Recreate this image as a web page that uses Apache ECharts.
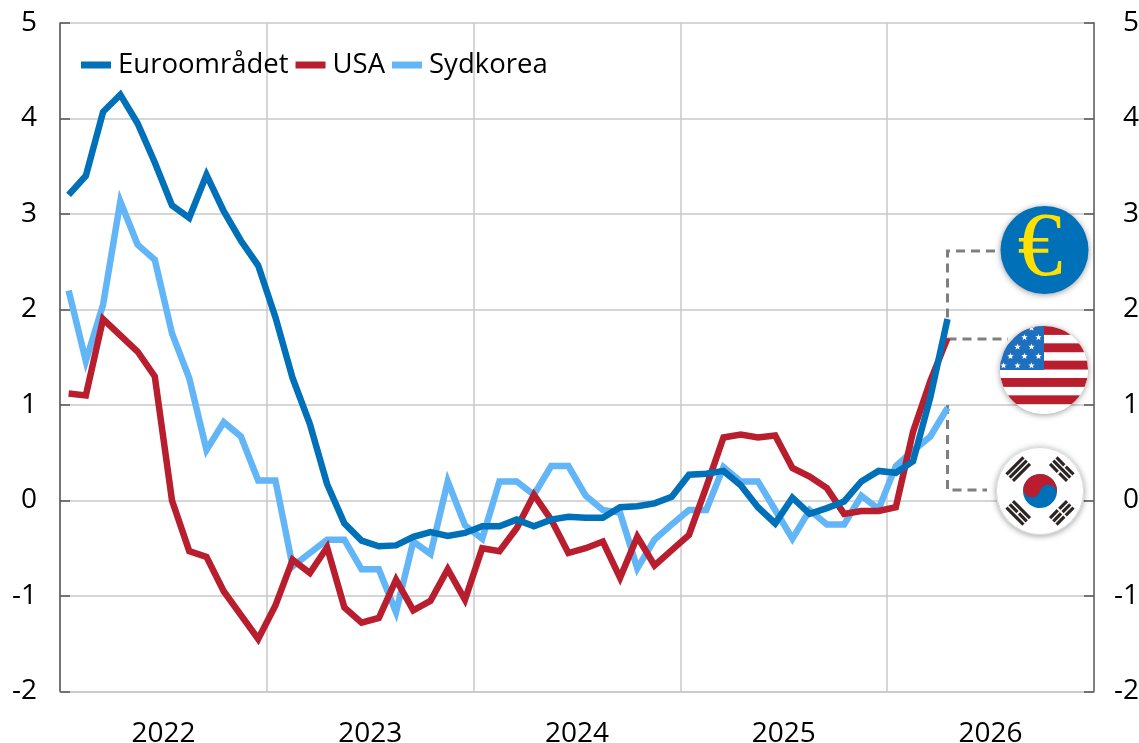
<!DOCTYPE html>
<html><head><meta charset="utf-8">
<style>html,body{margin:0;padding:0;background:#fff}#c{width:1139px;height:743px}</style>
<script src="https://cdn.jsdelivr.net/npm/echarts@6/dist/echarts.min.js"></script>
</head><body><div id="c"></div>
<script>
const years = ['2022','2023','2024','2025','2026'];
const months = ['01','02','03','04','05','06','07','08','09','10','11','12'];
const monthCats = years.flatMap(y => months.map(m => y + '-' + m));
const euroValues = [3.2,3.4,4.07,4.25,3.95,3.54,3.09,2.96,3.41,3.03,2.72,2.46,1.92,1.28,0.8,0.17,-0.24,-0.42,-0.48,-0.47,-0.38,-0.33,-0.37,-0.34,-0.27,-0.27,-0.2,-0.27,-0.2,-0.17,-0.18,-0.18,-0.07,-0.06,-0.03,0.04,0.27,0.28,0.31,0.16,-0.07,-0.24,0.03,-0.14,-0.08,-0.01,0.2,0.31,0.29,0.41,1.08,1.9];
const usaValues = [1.12,1.1,1.9,1.73,1.56,1.3,0.0,-0.53,-0.59,-0.95,-1.2,-1.45,-1.1,-0.62,-0.76,-0.49,-1.12,-1.28,-1.23,-0.83,-1.15,-1.05,-0.72,-1.04,-0.5,-0.53,-0.29,0.06,-0.2,-0.55,-0.5,-0.43,-0.81,-0.38,-0.68,-0.52,-0.36,0.14,0.66,0.69,0.66,0.68,0.34,0.25,0.13,-0.14,-0.11,-0.11,-0.07,0.72,1.25,1.7];
const koreaValues = [2.2,1.46,2.05,3.13,2.68,2.52,1.75,1.28,0.53,0.82,0.67,0.21,0.21,-0.69,-0.55,-0.41,-0.41,-0.72,-0.72,-1.17,-0.43,-0.56,0.2,-0.26,-0.4,0.2,0.2,0.06,0.36,0.36,0.05,-0.1,-0.13,-0.71,-0.41,-0.25,-0.1,-0.1,0.35,0.2,0.2,-0.1,-0.4,-0.1,-0.25,-0.25,0.05,-0.09,0.36,0.52,0.67,0.97];

const BLUE='#0070B8', RED='#B81E2D', LIGHT='#62B5F6';
const FONT='"Open Sans"';

function star(cx,cy,r){let p=[];for(let i=0;i<10;i++){const a=-Math.PI/2+i*Math.PI/5,q=i%2?r*0.42:r;p.push((cx+q*Math.cos(a)).toFixed(2)+','+(cy+q*Math.sin(a)).toFixed(2));}return '<polygon fill="#fff" points="'+p.join(' ')+'"/>';}
function usSvg(){
  let s='<svg xmlns="http://www.w3.org/2000/svg" width="88" height="88" viewBox="0 0 88 88"><defs><clipPath id="k"><circle cx="44" cy="44" r="44"/></clipPath></defs><g clip-path="url(#k)"><rect width="88" height="88" fill="#fff"/>';
  for(let i=0;i<5;i++)s+='<rect x="0" y="'+(i*17.33)+'" width="88" height="8.9" fill="'+RED+'"/>';
  s+='<rect x="0" y="0" width="44" height="44" fill="#1F6FBF"/>';
  for(let r=0;r<5;r++){const y=2+r*9.4;const off=r%2?7:0;for(let c=0;c<4;c++){const x=10.5+off+c*14-7;if(x<42)s+=star(x,y,3.4);}}
  return s+'</g></svg>';
}
function trigram(angle,pattern){
  let s='<g transform="translate(44 44) rotate('+angle+')">';
  pattern.forEach((broken,i)=>{const y=-37+i*4.6;
    if(broken){s+='<rect x="-12" y="'+y+'" width="11" height="3.2" fill="#2b2523"/><rect x="1" y="'+y+'" width="11" height="3.2" fill="#2b2523"/>';}
    else s+='<rect x="-12" y="'+y+'" width="24" height="3.2" fill="#2b2523"/>';});
  return s+'</g>';
}
function krSvg(){
  let s='<svg xmlns="http://www.w3.org/2000/svg" width="88" height="88" viewBox="0 0 88 88"><circle cx="44" cy="44" r="43.5" fill="#fff" stroke="#d8d8d8"/>';
  s+='<g transform="translate(44 44) rotate(15)"><circle r="17" fill="#0070B8"/><path d="M-17 0A17 17 0 0 1 17 0A8.5 8.5 0 0 0 0 0A8.5 8.5 0 0 1 -17 0Z" fill="'+RED+'"/></g>';
  s+=trigram(-45,[0,0,0])+trigram(45,[1,0,1])+trigram(-135,[0,1,0])+trigram(135,[1,1,1]);
  return s+'</svg>';
}
const uri=s=>'data:image/svg+xml;charset=utf-8,'+encodeURIComponent(s);
const shadow={shadowBlur:6,shadowColor:'rgba(0,0,0,0.4)',shadowOffsetY:1};
const dash={stroke:'#7f7f7f',lineWidth:3,lineDash:[9,6],fill:null};

const chart=echarts.init(document.getElementById('c'));
const mkLine=(name,data,color,z)=>({name,type:'line',data,xAxisIndex:0,yAxisIndex:0,symbol:'none',smooth:false,z,
  lineStyle:{color,width:6.5,cap:'butt',join:'miter'},itemStyle:{color},emphasis:{disabled:true}});
const yAxisBase={type:'value',min:-2,max:5,interval:1,
  axisLabel:{color:'#000',fontFamily:FONT,fontSize:28,padding:[4,0,0,0]}};
chart.setOption({
  animation:false,
  backgroundColor:'#fff',
  grid:{left:60,right:45,top:23,bottom:51.5,containLabel:false,outerBoundsMode:'none'},
  legend:{left:76,top:46,icon:'rect',itemWidth:30,itemHeight:7,itemGap:7,selectedMode:false,
    textStyle:{color:'#000',fontFamily:FONT,fontSize:27.5,padding:[0,0,0,2]},
    data:['Euroområdet','USA','Sydkorea']},
  xAxis:[
    {type:'category',data:monthCats,boundaryGap:true,position:'bottom',axisLine:{show:false},axisTick:{show:false},axisLabel:{show:false},splitLine:{show:false}},
    {type:'category',data:years,boundaryGap:true,position:'bottom',axisLine:{show:true,onZero:false,lineStyle:{color:'#c8c8c8',width:1.5}},axisTick:{show:false},
      axisLabel:{color:'#000',fontFamily:FONT,fontSize:28,margin:29},splitLine:{show:true,lineStyle:{color:'#c8c8c8',width:1.5}}}
  ],
  yAxis:[
    Object.assign({},yAxisBase,{position:'left',axisLine:{show:true,lineStyle:{color:'#555',width:1.5}},axisTick:{show:true,inside:true,length:10,lineStyle:{color:'#555',width:1.5}},
      axisLabel:Object.assign({},yAxisBase.axisLabel,{margin:23}),splitLine:{show:true,lineStyle:{color:'#c8c8c8',width:1.5}}}),
    Object.assign({},yAxisBase,{position:'right',axisLine:{show:true,lineStyle:{color:'#808080',width:2}},axisTick:{show:true,inside:true,length:10,lineStyle:{color:'#555',width:1.5}},
      axisLabel:Object.assign({},yAxisBase.axisLabel,{align:'right',margin:45}),splitLine:{show:false}})
  ],
  series:[
    mkLine('Euroområdet',euroValues,BLUE,5),
    mkLine('USA',usaValues,RED,4),
    mkLine('Sydkorea',koreaValues,LIGHT,3)
  ],
  graphic:{elements:[
    {type:'polyline',z:1,silent:true,shape:{points:[[995,251],[947.5,251],[947.5,320]]},style:dash},
    {type:'polyline',z:1,silent:true,shape:{points:[[947.5,339],[1008,339]]},style:dash},
    {type:'polyline',z:1,silent:true,shape:{points:[[947.5,405],[947.5,490],[987,490]]},style:dash},
    {type:'circle',z:10,silent:true,shape:{cx:1044.5,cy:250,r:44},style:Object.assign({fill:BLUE},shadow)},
    {type:'text',z:11,silent:true,x:1040,y:251,style:{text:'€',fill:'#FFE000',font:'90px "Liberation Serif"',align:'center',verticalAlign:'middle'}},
    {type:'circle',z:10,silent:true,shape:{cx:1044,cy:370,r:44},style:Object.assign({fill:'#fff'},shadow)},
    {type:'image',z:11,silent:true,style:{image:uri(usSvg()),x:1000,y:326,width:88,height:88}},
    {type:'circle',z:10,silent:true,shape:{cx:1040,cy:491,r:44},style:Object.assign({fill:'#fff'},shadow)},
    {type:'image',z:11,silent:true,style:{image:uri(krSvg()),x:996,y:447,width:88,height:88}}
  ]}
});
</script></body></html>
